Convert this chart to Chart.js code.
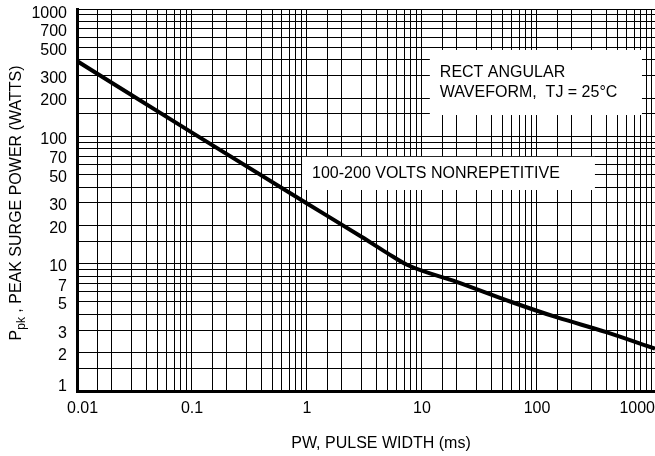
<!DOCTYPE html>
<html><head><meta charset="utf-8">
<script src="https://cdn.jsdelivr.net/npm/chart.js@4"></script>
<style>html,body{margin:0;padding:0;background:#fff}canvas{display:block}</style>
</head><body>
<canvas id="c" width="655" height="456"></canvas>
<script>
// ---- data ----
const pulseWidth = [0.01, 0.1, 1, 3, 5, 7.4, 20, 60, 150, 400, 1062];
const peakPower  = [390, 107, 29.7, 16.2, 12.1, 9.8, 7.2, 5.0, 3.78, 2.9, 2.15];

const xTickValues = [0.01, 0.1, 1, 10, 100, 1000];
const xTickLabels = ['0.01', '0.1', '1', '10', '100', '1000'];
const yTickValues = [1, 2, 3, 5, 7, 10, 20, 30, 50, 70, 100, 200, 300, 500, 700, 1000];
const yTickLabels = ['1', '2', '3', '5', '7', '10', '20', '30', '50', '70', '100', '200', '300', '500', '700', '1000'];

const xGridValues = [
  0.01, 0.015, 0.02, 0.03, 0.04, 0.05, 0.06, 0.07, 0.08, 0.09,
  0.1, 0.15, 0.2, 0.3, 0.4, 0.5, 0.6, 0.7, 0.8, 0.9,
  1, 1.5, 2, 3, 4, 5, 6, 7, 8, 9,
  10, 15, 20, 30, 40, 50, 60, 70, 80, 90,
  100, 150, 200, 300, 400, 500, 600, 700, 800, 900, 1000
];
const yGridValues = [
  1, 1.5, 2, 3, 4, 5, 6, 7, 8, 9,
  10, 15, 20, 30, 40, 50, 60, 70, 80, 90,
  100, 150, 200, 300, 400, 500, 600, 700, 800, 900, 1000
];

const noteTexts = [
  ['RECT ANGULAR', 'WAVEFORM,  TJ = 25\u00B0C'],
  ['100-200 VOLTS NONREPETITIVE']
];
const xTitle = 'PW, PULSE WIDTH (ms)';
const yTitleParts = ['P', 'pk', ' , PEAK SURGE POWER (WATTS)'];

// ---- layout / style ----
const FONT_FAMILY = '"Liberation Sans", Arial, sans-serif';
const FONT = '16px ' + FONT_FAMILY;
const noteBoxes = [
  { x0: 11.7, x1: 818, yTop: 477, yBot: 147, pad: 10, lineGap: 20 },
  { x0: 0.906, x1: 319, yTop: 69, yBot: 37.9, pad: 10, lineGap: 20 }
];

const customDraw = {
  id: 'customDraw',
  beforeDatasetsDraw(chart) {
    const { ctx, scales: { x, y } } = chart;
    ctx.save();
    noteBoxes.forEach((b, i) => {
      const l = x.getPixelForValue(b.x0), r = x.getPixelForValue(b.x1);
      const t = y.getPixelForValue(b.yTop), bt = y.getPixelForValue(b.yBot);
      ctx.fillStyle = '#fff';
      ctx.fillRect(l, t, r - l, bt - t);
      ctx.fillStyle = '#000';
      ctx.font = FONT;
      ctx.textAlign = 'left';
      ctx.textBaseline = 'middle';
      const lines = noteTexts[i];
      const cy = (t + bt) / 2 - (lines.length - 1) * b.lineGap / 2;
      lines.forEach((s, k) => ctx.fillText(s, l + b.pad, cy + k * b.lineGap));
    });
    ctx.restore();
  },
  afterDraw(chart) {
    const { ctx, scales: { x, y }, chartArea: ca } = chart;
    ctx.save();
    ctx.fillStyle = '#000';
    ctx.font = FONT;
    ctx.textBaseline = 'middle';
    // x tick labels
    ctx.textAlign = 'left';
    xTickValues.forEach((v, i) => {
      const s = xTickLabels[i];
      const w = ctx.measureText(s).width;
      let left = x.getPixelForValue(v) - w / 2;
      left = Math.max(ca.left - 10, Math.min(chart.width - w, left));
      ctx.fillText(s, left, ca.bottom + 18);
    });
    // y tick labels
    ctx.textAlign = 'right';
    yTickValues.forEach((v, i) => {
      let py = y.getPixelForValue(v) + 3;
      py = Math.max(ca.top + 5, Math.min(ca.bottom - 4, py));
      ctx.fillText(yTickLabels[i], ca.left - 10, py);
    });
    // x title
    ctx.textAlign = 'center';
    ctx.fillText(xTitle, (ca.left + ca.right) / 2 + 15, 444);
    // y title (rotated, with subscript)
    ctx.translate(21, (ca.top + ca.bottom) / 2 + 3);
    ctx.rotate(-Math.PI / 2);
    ctx.textAlign = 'left';
    ctx.textBaseline = 'alphabetic';
    const SUB = '12px ' + FONT_FAMILY;
    ctx.font = FONT; const w0 = ctx.measureText(yTitleParts[0]).width;
    ctx.font = SUB;  const w1 = ctx.measureText(yTitleParts[1]).width;
    ctx.font = FONT; const w2 = ctx.measureText(yTitleParts[2]).width;
    let px = -(w0 + w1 + w2) / 2;
    ctx.font = FONT; ctx.fillText(yTitleParts[0], px, 0); px += w0;
    ctx.font = SUB;  ctx.fillText(yTitleParts[1], px, 4); px += w1;
    ctx.font = FONT; ctx.fillText(yTitleParts[2], px, 0);
    ctx.restore();
  }
};

new Chart(document.getElementById('c'), {
  type: 'line',
  data: {
    datasets: [{
      data: pulseWidth.map((v, i) => ({ x: v, y: peakPower[i] })),
      borderColor: '#000',
      borderWidth: 4,
      pointRadius: 0,
      cubicInterpolationMode: 'monotone',
      fill: false
    }]
  },
  options: {
    responsive: false,
    animation: false,
    events: [],
    layout: { padding: { top: 9, left: 0, right: 0, bottom: 0 } },
    plugins: { legend: { display: false }, tooltip: { enabled: false } },
    scales: {
      x: {
        type: 'logarithmic',
        min: 0.01,
        max: 1062,
        afterBuildTicks: s => { s.ticks = xGridValues.map(v => ({ value: v })); },
        afterFit: s => { s.height = 65; },
        ticks: { display: false },
        grid: { color: '#000', lineWidth: 1, drawTicks: false },
        border: { display: true, color: '#000', width: 3 }
      },
      y: {
        type: 'logarithmic',
        min: 1,
        max: 1000,
        afterBuildTicks: s => { s.ticks = yGridValues.map(v => ({ value: v })); },
        afterFit: s => { s.width = 77; },
        ticks: { display: false },
        grid: { color: '#000', lineWidth: 1, drawTicks: false },
        border: { display: true, color: '#000', width: 3 }
      }
    }
  },
  plugins: [customDraw]
});
</script>
</body></html>
